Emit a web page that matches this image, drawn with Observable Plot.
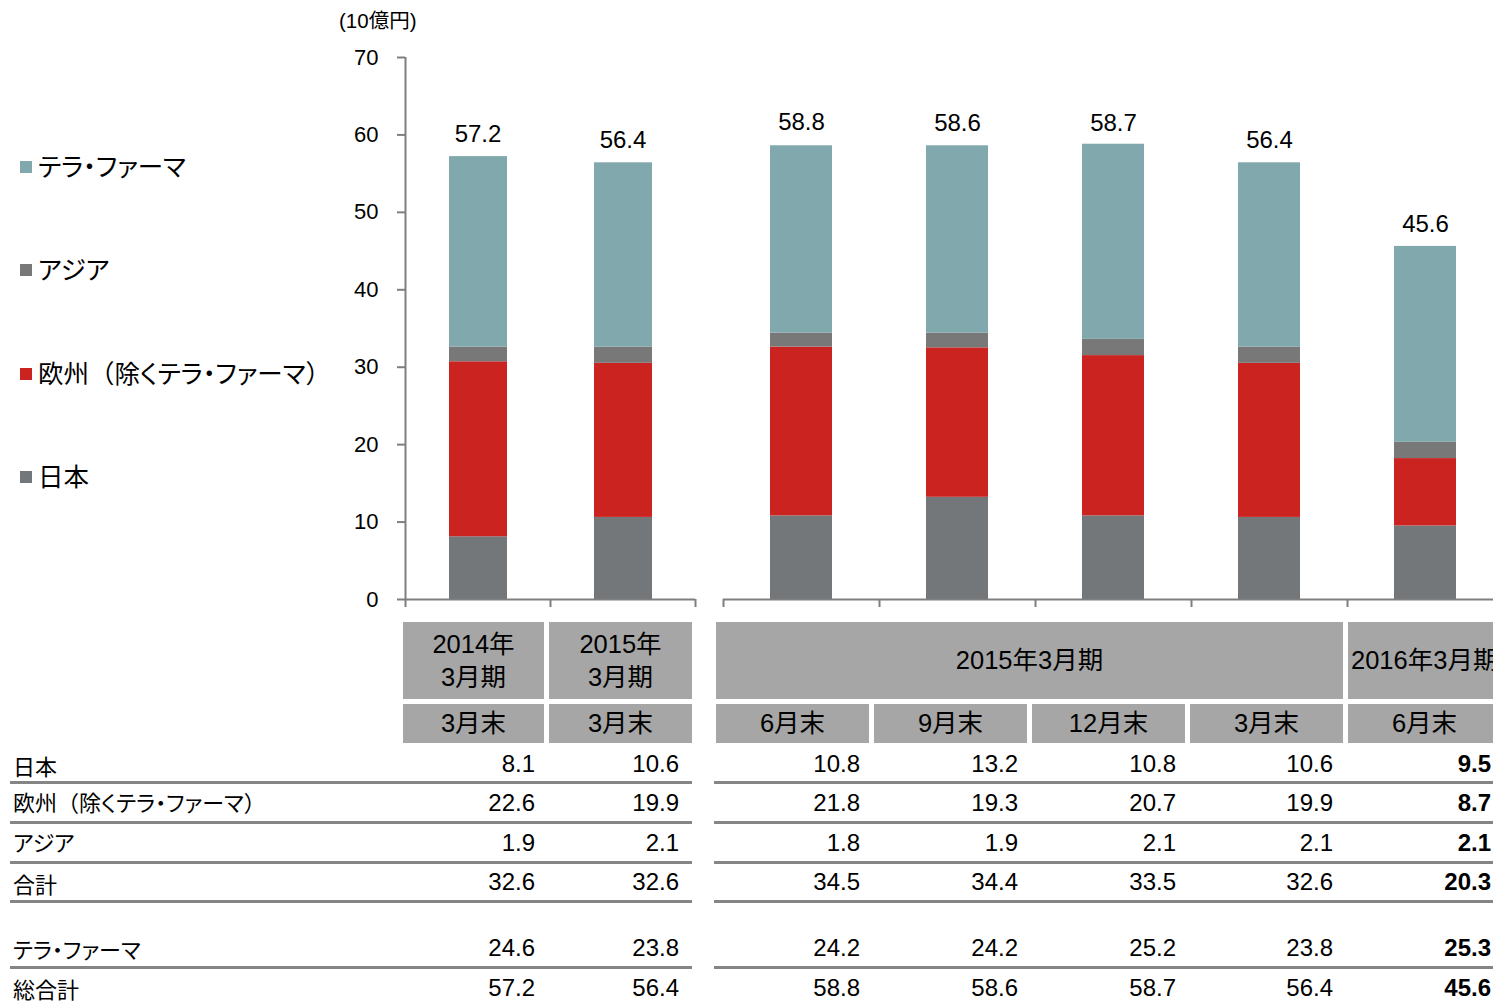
<!DOCTYPE html>
<html>
<head>
<meta charset="utf-8">
<script src="https://cdn.jsdelivr.net/npm/d3@7"></script>
<script src="https://cdn.jsdelivr.net/npm/@observablehq/plot@0.6"></script>
<style>
  html, body { margin: 0; padding: 0; background: #fff; overflow: hidden; }
  #root { position: relative; width: 1493px; height: 1003px; overflow: hidden;
    font-family: "Liberation Sans", Arial, "Noto Sans CJK JP", sans-serif; color: #000; }
  .abs { position: absolute; }
  .jp { font-family: "Liberation Sans", Arial, "Noto Sans CJK JP", sans-serif; }
  .palt { font-feature-settings: "palt"; }
  .full { font-feature-settings: normal; }
  .cell { position: absolute; background: #a6a6a6; display: flex; align-items: center; justify-content: center;
    text-align: center; font-size: 25.5px; line-height: 33px; white-space: pre; font-feature-settings: "palt"; }
  .num { position: absolute; font-size: 24px; line-height: 28px; text-align: right; width: 120px; }
  .rowlabel { position: absolute; left: 13px; font-size: 22px; line-height: 28px; font-feature-settings: "palt"; white-space: nowrap; }
  .hline { position: absolute; height: 3px; background: #858585; }
  .legend-item { position: absolute; left: 20px; display: flex; align-items: center; font-size: 25.5px; line-height: 30px; font-feature-settings: "palt"; white-space: nowrap; }
  .legend-item .sw { width: 12px; height: 12px; margin-right: 6px; }
  svg { overflow: visible; }
</style>
</head>
<body>
<div id="root"></div>
<script>
// ---------- data ----------
const seriesNames = ["日本", "欧州（除くテラ・ファーマ）", "アジア", "テラ・ファーマ"];
const seriesColors = ["#74777a", "#cb2320", "#787878", "#81a8ac"];
const fiscalLabels = ["2014年\n3月期", "2015年\n3月期", "2015年3月期", "2016年3月期"];
const fiscalSpans = [[0, 0], [1, 1], [2, 5], [6, 6]];
const monthLabels = ["3月末", "3月末", "6月末", "9月末", "12月末", "3月末", "6月末"];
const japan    = [8.1, 10.6, 10.8, 13.2, 10.8, 10.6, 9.5];
const europe   = [22.6, 19.9, 21.8, 19.3, 20.7, 19.9, 8.7];
const asia     = [1.9, 2.1, 1.8, 1.9, 2.1, 2.1, 2.1];
const subtotal = [32.6, 32.6, 34.5, 34.4, 33.5, 32.6, 20.3];
const terra    = [24.6, 23.8, 24.2, 24.2, 25.2, 23.8, 25.3];
const total    = [57.2, 56.4, 58.8, 58.6, 58.7, 56.4, 45.6];
const rowLabels = ["日本", "欧州（除くテラ・ファーマ）", "アジア", "合計", "テラ・ファーマ", "総合計"];
const rowValues = [japan, europe, asia, subtotal, terra, total];
const yTicks = [0, 10, 20, 30, 40, 50, 60, 70];
const unitLabel = "(10億円)";
const leftCount = 2; // first two periods drawn in the left panel

// ---------- build ----------
const root = document.getElementById("root");
const seriesValues = [japan, europe, asia, terra];

// keep full-width parentheses while kana use proportional widths
function setJpText(el, s) {
  s.split(/([（）])/).forEach(part => {
    if (!part) return;
    const sp = document.createElement("span");
    if (part === "（" || part === "）") sp.className = "full";
    sp.textContent = part;
    el.appendChild(sp);
  });
}

function rowsFor(indices) {
  const rows = [];
  indices.forEach((p, k) => {
    seriesNames.forEach((s, j) => {
      rows.push({i: k, i2: k + 1, series: s, value: seriesValues[j][p]});
    });
  });
  return rows;
}
function totalsFor(indices) {
  return indices.map((p, k) => ({i: k + 0.5, total: total[p]}));
}

const leftIdx = d3.range(0, leftCount);
const rightIdx = d3.range(leftCount, total.length);
const axisColor = "#7f7f7f";
const colorScale = {domain: seriesNames, range: seriesColors};

const leftPlot = Plot.plot({
  width: 697, height: 612,
  marginLeft: 405, marginRight: 2, marginTop: 57, marginBottom: 13,
  style: {fontFamily: "Liberation Sans, Arial, sans-serif", background: "transparent", overflow: "visible"},
  x: {domain: [0, leftIdx.length], axis: null},
  y: {domain: [0, 70], axis: null},
  color: colorScale,
  marks: [
    Plot.rectY(rowsFor(leftIdx), {x1: "i", x2: "i2", y: "value", fill: "series", insetLeft: 44, insetRight: 43}),
    Plot.ruleY([0], {stroke: axisColor, strokeWidth: 2}),
    Plot.axisX({ticks: d3.range(0, leftIdx.length + 1), tickFormat: () => "", tickSize: 8, stroke: axisColor, strokeWidth: 2}),
    Plot.ruleX([0], {stroke: axisColor, strokeWidth: 2}),
    Plot.axisY({ticks: yTicks, tickSize: 8, tickPadding: 19, fontSize: 22, stroke: axisColor, strokeWidth: 2, fill: "#000"}),
    Plot.text(totalsFor(leftIdx), {x: "i", y: "total", text: d => d.total.toFixed(1), dy: -22, fontSize: 24, fill: "#000"})
  ]
});
leftPlot.style.position = "absolute";
leftPlot.style.left = "0px";
leftPlot.style.top = "0px";
root.appendChild(leftPlot);

const rightPlot = Plot.plot({
  width: 782, height: 612,
  marginLeft: 2, marginRight: 0, marginTop: 57, marginBottom: 13,
  style: {fontFamily: "Liberation Sans, Arial, sans-serif", background: "transparent", overflow: "visible"},
  x: {domain: [0, rightIdx.length], axis: null},
  y: {domain: [0, 70], axis: null},
  color: colorScale,
  marks: [
    Plot.rectY(rowsFor(rightIdx), {x1: "i", x2: "i2", y: "value", fill: "series", insetLeft: 47, insetRight: 47}),
    Plot.ruleY([0], {stroke: axisColor, strokeWidth: 2}),
    Plot.axisX({ticks: d3.range(0, rightIdx.length), tickFormat: () => "", tickSize: 8, stroke: axisColor, strokeWidth: 2}),
    Plot.text(totalsFor(rightIdx), {x: "i", y: "total", text: d => d.total.toFixed(1), dy: -22, fontSize: 24, fill: "#000"})
  ]
});
rightPlot.style.position = "absolute";
rightPlot.style.left = "721px";
rightPlot.style.top = "0px";
root.appendChild(rightPlot);

// unit label
const unit = document.createElement("div");
unit.className = "abs jp";
unit.style.cssText += "left:339px;top:9px;font-size:20.5px;line-height:24px;";
unit.textContent = unitLabel;
root.appendChild(unit);

// legend (top to bottom: reverse stack order)
const legendTops = [167, 270, 374, 477];
[...seriesNames].reverse().forEach((s, k) => {
  const item = document.createElement("div");
  item.className = "legend-item";
  item.style.top = (legendTops[k] - 15) + "px";
  const sw = document.createElement("span");
  sw.className = "sw";
  sw.style.background = seriesColors[seriesNames.indexOf(s)];
  const t = document.createElement("span");
  setJpText(t, s);
  item.appendChild(sw); item.appendChild(t);
  root.appendChild(item);
});

// ---------- table ----------
const colLeft  = [403, 549, 716, 874, 1032, 1190, 1348];
const colRight = [544, 692, 869, 1027, 1185, 1343, 1501];
const numRight = [535, 679, 860, 1018, 1176, 1333, 1491];

fiscalLabels.forEach((lab, k) => {
  const [a, b] = fiscalSpans[k];
  const c = document.createElement("div");
  c.className = "cell";
  c.style.left = colLeft[a] + "px";
  c.style.width = (colRight[b] - colLeft[a]) + "px";
  c.style.top = "622px";
  c.style.height = "77px";
  c.textContent = lab;
  if (b === total.length - 1) { c.style.justifyContent = "flex-start"; c.style.paddingLeft = "3px"; c.style.boxSizing = "border-box"; }
  root.appendChild(c);
});
monthLabels.forEach((lab, k) => {
  const c = document.createElement("div");
  c.className = "cell";
  c.style.left = colLeft[k] + "px";
  c.style.width = (colRight[k] - colLeft[k]) + "px";
  c.style.top = "704px";
  c.style.height = "39px";
  c.textContent = lab;
  root.appendChild(c);
});

const rowCenters = [764, 803, 843, 882, 948, 988];
const labelCenters = [768, 804, 844, 886, 951, 991];
const lineTops = [781, 821, 861, 900, 966];
rowLabels.forEach((lab, r) => {
  const l = document.createElement("div");
  l.className = "rowlabel";
  l.style.top = (labelCenters[r] - 14) + "px";
  setJpText(l, lab);
  root.appendChild(l);
  rowValues[r].forEach((v, k) => {
    const n = document.createElement("div");
    n.className = "num";
    n.style.left = (numRight[k] - 120) + "px";
    n.style.top = (rowCenters[r] - 14) + "px";
    n.textContent = v.toFixed(1);
    if (k === total.length - 1) n.style.fontWeight = "bold";
    root.appendChild(n);
  });
  if (r < lineTops.length) {
    [[10, 692], [714, 1493]].forEach(([x0, x1]) => {
      const h = document.createElement("div");
      h.className = "hline";
      h.style.left = x0 + "px";
      h.style.width = (x1 - x0) + "px";
      h.style.top = lineTops[r] + "px";
      root.appendChild(h);
    });
  }
});
</script>
</body>
</html>
